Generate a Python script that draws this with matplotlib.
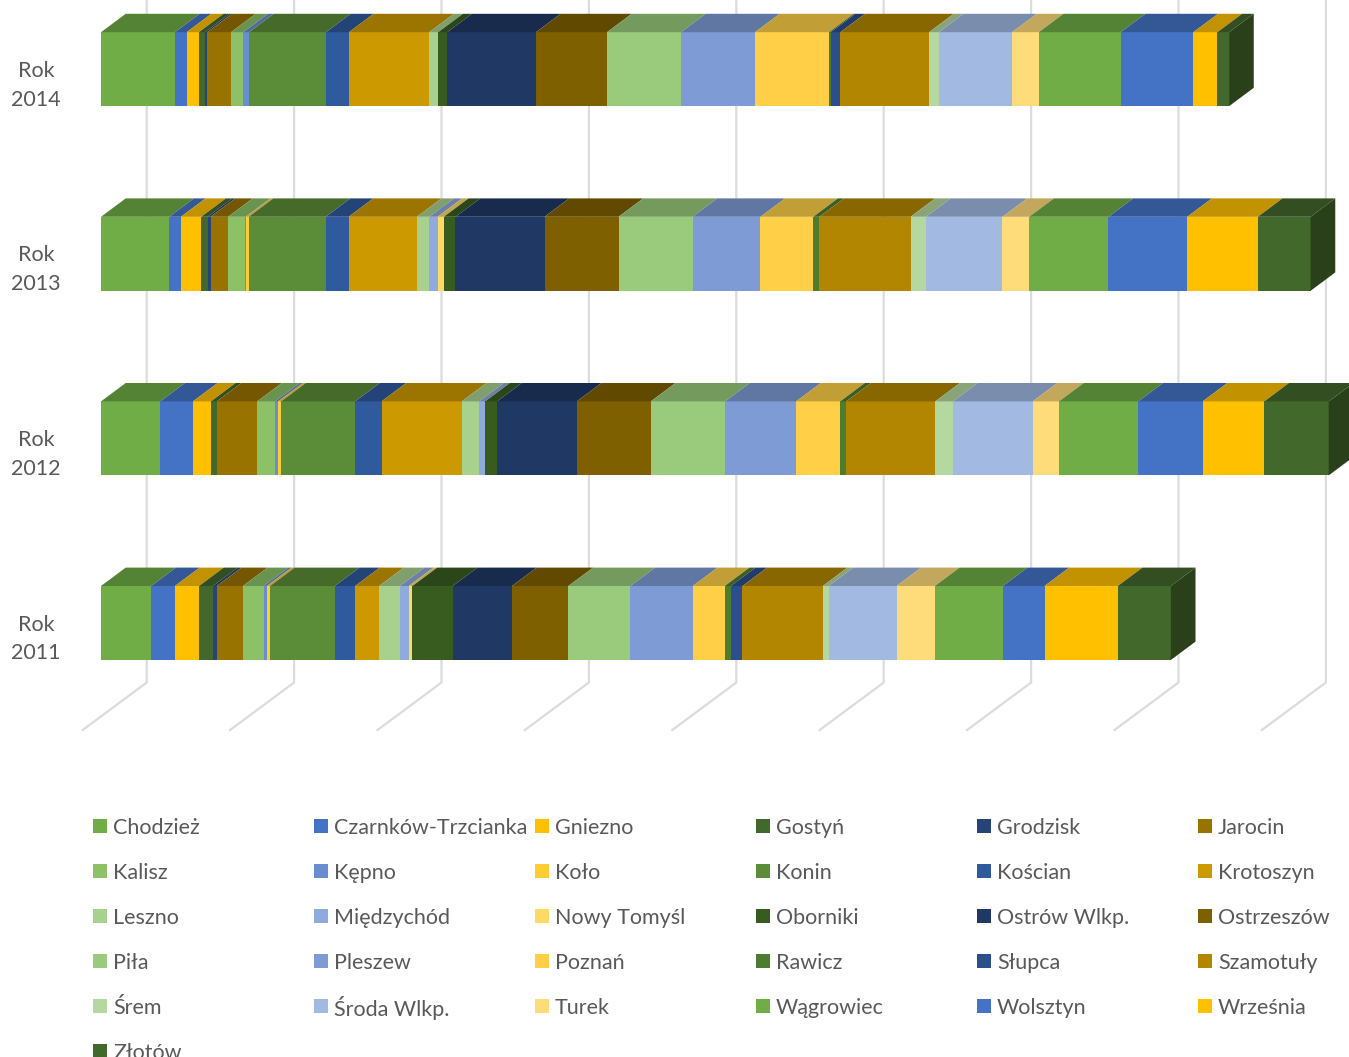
import matplotlib

matplotlib.use("Agg")
import matplotlib.pyplot as plt
import numpy as np
from matplotlib.colors import to_rgb
from matplotlib.patches import Polygon, Rectangle

plt.rcParams["font.family"] = ["Lato", "DejaVu Sans"]

WIDTH, HEIGHT = 1349, 1057
TEXT_COLOR = "#595959"
GRID_COLOR = "#dcdcdc"

years = ["Rok\n2011", "Rok\n2012", "Rok\n2013", "Rok\n2014"]

powiaty = [
    "Chodzież", "Czarnków-Trzcianka", "Gniezno", "Gostyń", "Grodzisk", "Jarocin",
    "Kalisz", "Kępno", "Koło", "Konin", "Kościan", "Krotoszyn",
    "Leszno", "Międzychód", "Nowy Tomyśl", "Oborniki", "Ostrów Wlkp.", "Ostrzeszów",
    "Piła", "Pleszew", "Poznań", "Rawicz", "Słupca", "Szamotuły",
    "Śrem", "Środa Wlkp.", "Turek", "Wągrowiec", "Wolsztyn", "Września",
    "Złotów",
]

colors = [
    "#70AD47", "#4472C4", "#FFC000", "#43682B", "#264478", "#997300",
    "#8CC168", "#698ED0", "#FFCD33", "#5B8C37", "#2F5A9E", "#CC9A00",
    "#A9D18E", "#8FAADC", "#FFD966", "#385C20", "#1F3864", "#7F6000",
    "#9ACA7C", "#7E9BD6", "#FFD047", "#4E7C2F", "#2B4F8C", "#B38600",
    "#B5D8A0", "#A2B9E2", "#FFDC7A", "#70AD47", "#4472C4", "#FFC000",
    "#43682B",
]

values_2011 = [34.1, 16.1, 16.3, 9.5, 2.5, 17.8, 14.0, 2.2, 2.2, 43.9, 13.8, 16.3, 14.0, 6.1, 2.5, 27.3,
               40.2, 38.3, 42.1, 42.3, 21.7, 4.1, 7.9, 54.5, 3.9, 46.1, 26.0, 46.1, 28.3, 49.7, 36.0]
values_2012 = [40.2, 22.2, 12.2, 3.9, 0, 27.5, 12.0, 2.2, 2.0, 50.2, 17.9, 54.5, 11.7, 4.1, 0, 8.1,
               54.1, 50.2, 50.4, 48.2, 29.9, 4.1, 0, 60.4, 12.0, 54.1, 17.8, 53.8, 43.7, 41.8, 43.7]
values_2013 = [46.3, 7.9, 13.8, 4.3, 2.0, 11.9, 11.8, 0.4, 1.8, 52.2, 15.6, 46.3, 8.4, 5.6, 4.3, 7.9,
               60.4, 50.2, 50.2, 46.1, 35.8, 4.1, 0, 61.9, 10.5, 51.9, 18.1, 53.8, 53.4, 47.9, 35.8]
values_2014 = [50.2, 7.9, 8.3, 4.1, 1.6, 16.1, 8.3, 3.9, 0, 52.2, 15.6, 54.5, 6.1, 0, 0, 6.1,
               60.2, 48.2, 50.2, 50.2, 50.2, 1.2, 6.5, 60.2, 6.6, 49.7, 18.1, 55.6, 49.3, 16.3, 7.9]

grid_ticks = [0, 100, 200, 300, 400, 500, 600, 700, 800]

# scale of the data axes in pixels
PX_PER_UNIT = 1.474
PX_PER_ROW = 184.6
ZERO_PX = 101.0
ROW0_PX = 623.0
BAR_HEIGHT = 74 / PX_PER_ROW

# oblique projection offsets
DEPTH_X = 24.7 / PX_PER_UNIT
DEPTH_Y = 18.4 / PX_PER_ROW
WALL_X = 45.7 / PX_PER_UNIT
FLOOR_X = -18.3 / PX_PER_UNIT
WALL_Y = (ROW0_PX - 682.5) / PX_PER_ROW
FLOOR_Y = (ROW0_PX - 730.0) / PX_PER_ROW

# year labels sit a little below the bar centre
LABEL_X = -65 / PX_PER_UNIT
LABEL_DROP = 16 / PX_PER_ROW


def shade(color, factor):
    return tuple(c * factor for c in to_rgb(color))


fig = plt.figure(figsize=(WIDTH / 100, HEIGHT / 100), dpi=100)
ax = fig.add_axes([0, 0, 1, 1])
ax.set_xlim(-ZERO_PX / PX_PER_UNIT, (WIDTH - ZERO_PX) / PX_PER_UNIT)
ax.set_ylim((ROW0_PX - HEIGHT) / PX_PER_ROW, ROW0_PX / PX_PER_ROW)
ax.axis("off")

top_y = ax.get_ylim()[1]
for tick in grid_ticks:
    ax.plot(
        [tick + FLOOR_X, tick + WALL_X, tick + WALL_X],
        [FLOOR_Y, WALL_Y, top_y],
        color=GRID_COLOR,
        lw=1.6,
        zorder=1,
    )

table = np.array([values_2011, values_2012, values_2013, values_2014])
lefts = np.hstack([np.zeros((4, 1)), np.cumsum(table, axis=1)[:, :-1]])
rows = np.arange(len(years))
front_bottom = rows - BAR_HEIGHT / 2
front_top = rows + BAR_HEIGHT / 2

for k, color in enumerate(colors):
    ax.barh(rows, table[:, k], left=lefts[:, k], height=BAR_HEIGHT, color=color, linewidth=0, zorder=3)
    for row in rows:
        x0 = lefts[row, k]
        x1 = x0 + table[row, k]
        if x1 <= x0:
            continue
        ax.add_patch(
            Polygon(
                [
                    (x0, front_top[row]),
                    (x1, front_top[row]),
                    (x1 + DEPTH_X, front_top[row] + DEPTH_Y),
                    (x0 + DEPTH_X, front_top[row] + DEPTH_Y),
                ],
                facecolor=shade(color, 0.76),
                linewidth=0,
                zorder=3,
            )
        )

# right hand end of each bar
totals = table.sum(axis=1)
for row in rows:
    ax.add_patch(
        Polygon(
            [
                (totals[row], front_bottom[row]),
                (totals[row] + DEPTH_X, front_bottom[row] + DEPTH_Y),
                (totals[row] + DEPTH_X, front_top[row] + DEPTH_Y),
                (totals[row], front_top[row]),
            ],
            facecolor=shade(colors[-1], 0.62),
            linewidth=0,
            zorder=3,
        )
    )
    ax.text(
        LABEL_X,
        row - LABEL_DROP,
        years[row],
        ha="center",
        va="center",
        fontsize=15.5,
        color=TEXT_COLOR,
        linespacing=1.55,
    )

# legend is laid out by hand: fixed columns filled row by row
LEGEND_X0, LEGEND_DX = 93, 221
LEGEND_Y0, LEGEND_DY = 826, 45
SWATCH = 14
for i, (name, color) in enumerate(zip(powiaty, colors)):
    line, col = divmod(i, 6)
    px = LEGEND_X0 + col * LEGEND_DX
    py = LEGEND_Y0 + line * LEGEND_DY
    fig.add_artist(
        Rectangle(
            (px / WIDTH, 1 - (py + SWATCH / 2) / HEIGHT),
            SWATCH / WIDTH,
            SWATCH / HEIGHT,
            transform=fig.transFigure,
            facecolor=color,
            linewidth=0,
        )
    )
    fig.text((px + 20) / WIDTH, 1 - py / HEIGHT, name, ha="left", va="center_baseline", fontsize=15.5, color=TEXT_COLOR)

fig.savefig("out.png", dpi=100)
